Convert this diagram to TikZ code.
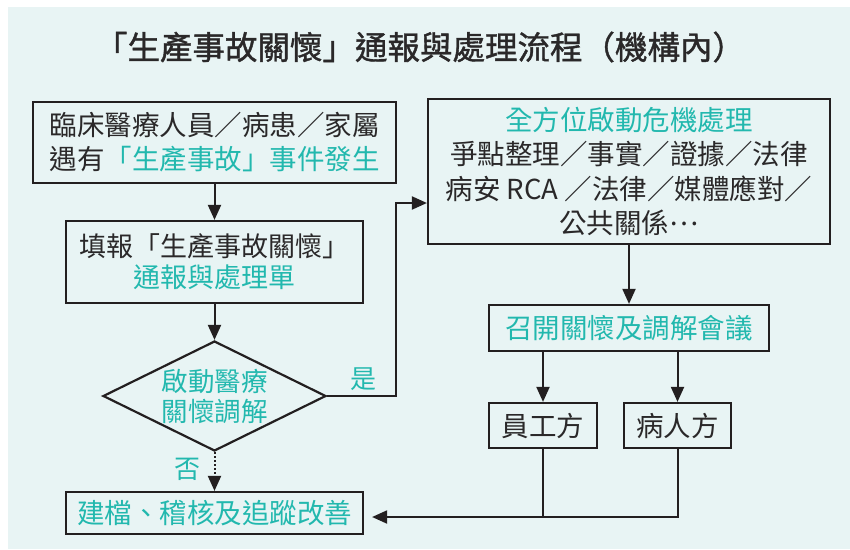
\documentclass[tikz,border=0pt]{standalone}
\usepackage{fontspec}
\setmainfont{Noto Sans CJK TC}
\newfontfamily\titlefont[FakeBold=1.2]{Noto Sans CJK TC}
\usetikzlibrary{arrows.meta,shapes.geometric,calc}
\definecolor{panel}{HTML}{E8F4F4}
\definecolor{teal}{HTML}{22B8AE}
\definecolor{ink}{HTML}{2A2829}
\definecolor{linec}{HTML}{231F20}
\tikzset{
  box/.style={draw=linec,line width=2.2pt,inner sep=0pt,text=ink,align=center,font=\fontsize{27.5}{34}\selectfont},
  conn/.style={draw=linec,line width=2pt},
  arr/.style={conn,-{Triangle[length=15pt,width=13pt]}},
  hl/.style={text=teal},
}
\newcommand{\tl}[1]{\textcolor{teal}{#1}}
\begin{document}
\begin{tikzpicture}[x=1pt,y=-1pt]
\useasboundingbox (0,0) rectangle (850,549);
\fill[panel] (8,7) rectangle (850,549);
\node[text=ink,font=\titlefont\fontsize{32.5}{36}\selectfont] (title) at (420,47) {「生產事故關懷」通報與處理流程（機構內）};
\node[box,minimum width=363pt,minimum height=81pt] (b1) at (214.5,142.5) {臨床醫療人員／病患／家屬\\遇有\tl{「生產事故」事件發生}};
\node[box,minimum width=297pt,minimum height=82pt,font=\fontsize{27}{31}\selectfont] (b2) at (214.5,262) {填報「生產事故關懷」\\\tl{通報與處理單}};
\node[draw=linec,line width=2.2pt,diamond,minimum width=223pt,minimum height=110pt,inner sep=0pt] (dia) at (214.5,396) {};
\node[hl,align=center,font=\fontsize{26.5}{30}\selectfont] (dtext) at (dia.center) {啟動醫療\\關懷調解};
\node[box,minimum width=297pt,minimum height=42pt,text=teal] (bot) at (214.5,513) {建檔、稽核及追蹤改善};
\node[box,minimum width=402pt,minimum height=145pt,font=\fontsize{27.5}{34.3}\selectfont] (b3) at (629,171.5) {\tl{全方位啟動危機處理}\\爭點整理／事實／證據／法律\\病安 RCA ／法律／媒體應對／\\公共關係\raisebox{0.3em}{…}};
\node[box,minimum width=280pt,minimum height=46pt,text=teal] (meet) at (629,328) {召開關懷及調解會議};
\node[box,minimum width=108pt,minimum height=45pt] (emp) at (543,425.5) {員工方};
\node[box,minimum width=107pt,minimum height=45pt] (pat) at (677.5,425.5) {病人方};
\node[hl,font=\fontsize{26}{30}\selectfont] (yes) at (363,379) {是};
\node[hl,font=\fontsize{26}{30}\selectfont] (no) at (187,469) {否};
\coordinate (j1) at (396,396);
\coordinate (j2) at (396,203);
\coordinate (j3) at (677.5,517);
\draw[arr] (b1.south) -- (b2.north);
\draw[arr] (b2.south) -- (dia.north);
\draw[arr] (dia.east) -- (j1) -- (j2) -- (j2 -| b3.west);
\draw[arr,dash pattern=on 2pt off 2pt] (dia.south) -- (bot.north);
\draw[arr] (b3.south) -- (meet.north);
\draw[arr] (meet.south -| emp.north) -- (emp.north);
\draw[arr] (meet.south -| pat.north) -- (pat.north);
\draw[conn] (emp.south) -- (emp.south |- j3);
\draw[arr,shorten >=8pt] (pat.south) -- (j3) -- (j3 -| bot.east);
\end{tikzpicture}
\end{document}
